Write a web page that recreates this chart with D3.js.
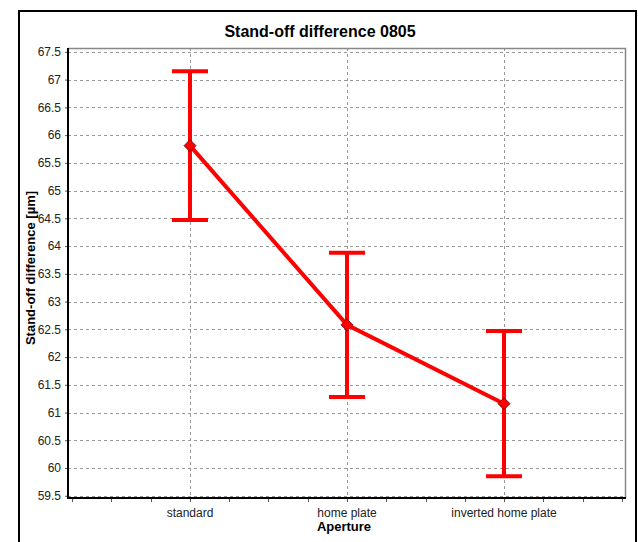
<!DOCTYPE html>
<html>
<head>
<meta charset="utf-8">
<script src="https://cdn.jsdelivr.net/npm/d3@7"></script>
<style>
  html, body { margin: 0; padding: 0; background: #fff; }
  svg { display: block; font-family: "Liberation Sans", Arial, sans-serif; }
</style>
</head>
<body>
<svg id="chart" width="638" height="542"></svg>
<script>
// Aperture categories and measured stand-off difference (mean with error bars)
const categories = ["standard", "home plate", "inverted home plate"];
const means = [65.81, 62.58, 61.16];
const upper = [67.15, 63.88, 62.47];
const lower = [64.47, 61.28, 59.85];
const yTicks = [59.5, 60, 60.5, 61, 61.5, 62, 62.5, 63, 63.5, 64, 64.5, 65, 65.5, 66, 66.5, 67, 67.5];

const svg = d3.select("#chart");
const plot = { left: 68, top: 48, right: 626, bottom: 498 };

// x positions are category indices 1..3 on a continuous axis
const x = d3.scaleLinear().domain([0.223, 3.777]).range([plot.left, plot.right]);
const y = d3.scaleLinear().domain([59.46, 67.57]).range([plot.bottom, plot.top]);

// outer frame
svg.append("rect")
  .attr("x", 19).attr("y", 11).attr("width", 617).attr("height", 545)
  .attr("fill", "#fff").attr("stroke", "#000").attr("stroke-width", 2);

// title
svg.append("text")
  .attr("x", 320).attr("y", 37).attr("text-anchor", "middle")
  .attr("font-size", 16).attr("font-weight", "bold").attr("fill", "#000")
  .text("Stand-off difference 0805");

// plot background
svg.append("rect")
  .attr("x", plot.left).attr("y", plot.top)
  .attr("width", plot.right - plot.left).attr("height", plot.bottom - plot.top)
  .attr("fill", "#fff");

// horizontal gridlines
svg.append("g").selectAll("line").data(yTicks).join("line")
  .attr("x1", plot.left).attr("x2", plot.right)
  .attr("y1", d => Math.round(y(d)) + 0.5).attr("y2", d => Math.round(y(d)) + 0.5)
  .attr("stroke", "#999").attr("stroke-dasharray", "3,3");

// vertical gridlines at categories
svg.append("g").selectAll("line").data(categories).join("line")
  .attr("x1", (d, i) => Math.round(x(i + 1)) + 0.5).attr("x2", (d, i) => Math.round(x(i + 1)) + 0.5)
  .attr("y1", plot.top).attr("y2", plot.bottom)
  .attr("stroke", "#999").attr("stroke-dasharray", "3,3");

// top and right plot border (light)
svg.append("path")
  .attr("d", `M${plot.left},${plot.top + 0.5}H${plot.right - 0.5}V${plot.bottom}`)
  .attr("fill", "none").attr("stroke", "#888").attr("stroke-width", 1.5);

// y axis
const yAxis = d3.axisLeft(y).tickValues(yTicks).tickSize(3).tickPadding(4)
  .tickFormat(d3.format("~g"));
const gy = svg.append("g").attr("transform", `translate(${plot.left},0)`).call(yAxis);
gy.select(".domain").remove();
gy.selectAll("line").attr("stroke", "#555");
gy.selectAll("text").attr("font-size", 12).attr("fill", "#222")
  .attr("font-family", "Liberation Sans, Arial, sans-serif");

// x axis: minor ticks every quarter, labels at categories
const xMinor = d3.range(0.25, 3.76, 0.25);
const gx = svg.append("g");
gx.selectAll("line").data(xMinor).join("line")
  .attr("x1", d => Math.round(x(d)) + 0.5).attr("x2", d => Math.round(x(d)) + 0.5)
  .attr("y1", plot.bottom).attr("y2", plot.bottom + 4)
  .attr("stroke", "#555");
gx.selectAll("text").data(categories).join("text")
  .attr("x", (d, i) => x(i + 1)).attr("y", 517)
  .attr("text-anchor", "middle").attr("font-size", 12).attr("fill", "#222")
  .text(d => d);

// main axis lines (left and bottom, heavy)
svg.append("path")
  .attr("d", `M${plot.left},${plot.top}V${plot.bottom}H${plot.right}`)
  .attr("fill", "none").attr("stroke", "#000").attr("stroke-width", 2);

// axis titles
svg.append("text")
  .attr("x", 344).attr("y", 531).attr("text-anchor", "middle")
  .attr("font-size", 13).attr("font-weight", "bold").attr("fill", "#000")
  .text("Aperture");
svg.append("text")
  .attr("transform", "translate(35,268) rotate(-90)")
  .attr("text-anchor", "middle")
  .attr("font-size", 13).attr("font-weight", "bold").attr("fill", "#000")
  .text("Stand-off difference [µm]");

const red = "#ff0000";

// connecting line through means
svg.append("path")
  .datum(means)
  .attr("d", d3.line().x((d, i) => x(i + 1)).y(d => y(d)))
  .attr("fill", "none").attr("stroke", red).attr("stroke-width", 4);

// error bars
const eb = svg.append("g").selectAll("g").data(categories).join("g");
eb.append("line")
  .attr("x1", (d, i) => x(i + 1)).attr("x2", (d, i) => x(i + 1))
  .attr("y1", (d, i) => y(upper[i])).attr("y2", (d, i) => y(lower[i]))
  .attr("stroke", red).attr("stroke-width", 4);
eb.append("line")
  .attr("x1", (d, i) => x(i + 1) - 18).attr("x2", (d, i) => x(i + 1) + 18)
  .attr("y1", (d, i) => y(upper[i])).attr("y2", (d, i) => y(upper[i]))
  .attr("stroke", red).attr("stroke-width", 4);
eb.append("line")
  .attr("x1", (d, i) => x(i + 1) - 18).attr("x2", (d, i) => x(i + 1) + 18)
  .attr("y1", (d, i) => y(lower[i])).attr("y2", (d, i) => y(lower[i]))
  .attr("stroke", red).attr("stroke-width", 4);

// diamond markers at means
svg.append("g").selectAll("path").data(means).join("path")
  .attr("transform", (d, i) => `translate(${x(i + 1)},${y(d)})`)
  .attr("d", "M0,-6L6,0L0,6L-6,0Z")
  .attr("fill", red).attr("stroke", "#600").attr("stroke-width", 0.8);
</script>
</body>
</html>
